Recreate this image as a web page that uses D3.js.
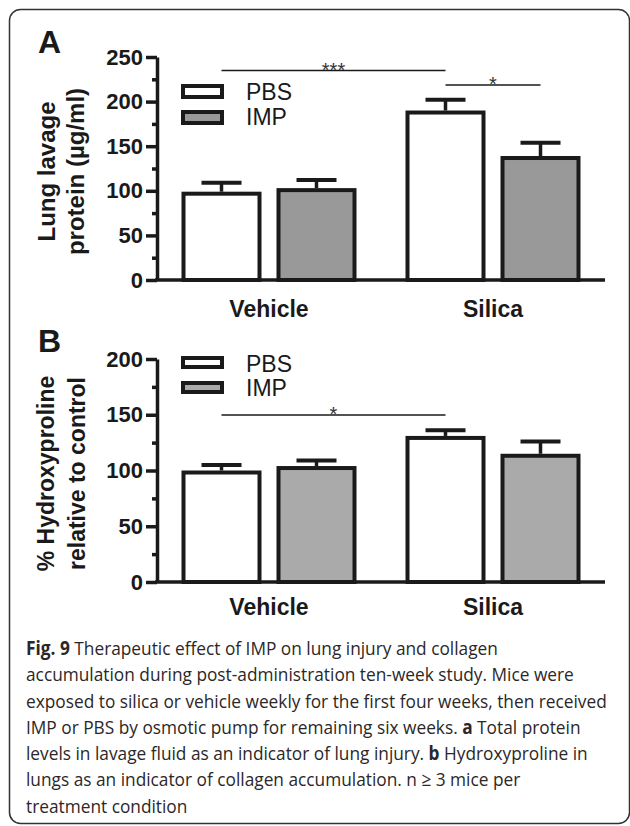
<!DOCTYPE html>
<html lang="en">
<head>
    <meta charset="utf-8" />
    <style>
        body {margin:0; background:#fff;}
        svg {display:block;}
        .tick text {font-family:"Liberation Sans", Arial, sans-serif; font-weight:bold; font-size:22px; fill:#1a1a1a;}
        .tick line, .domain {stroke:#1a1a1a; stroke-width:3.5px;}
        .ylab, .cat {font-family:"Liberation Sans", Arial, sans-serif; font-weight:bold; fill:#1a1a1a;}
        .leg {font-family:"Liberation Sans", Arial, sans-serif; font-size:23px; fill:#1a1a1a;}
        .caption {font-family:"Open Sans", "Noto Sans", sans-serif; font-size:19px; fill:#2b2728;}
    </style>
    <script src="https://cdn.jsdelivr.net/npm/d3@7"></script>
</head>
<body>
    <svg></svg>
</body>
<script>
    var width = 630,
        height = 826;

    var groups = ["Vehicle", "Silica"],
        series = ["PBS", "IMP"];

    // panel A: lung lavage protein (ug/ml)
    var proteinPBS = [99, 190],
        proteinIMP = [103, 139],
        proteinPBSErr = [10, 12],
        proteinIMPErr = [9, 15];

    // panel B: % hydroxyproline relative to control
    var hydroxyPBS = [100, 131],
        hydroxyIMP = [104, 115],
        hydroxyPBSErr = [5, 5],
        hydroxyIMPErr = [5, 11];

    var captionLines = [
        [["Fig. 9", true], [" Therapeutic effect of IMP on lung injury and collagen", false]],
        [["accumulation during post-administration ten-week study. Mice were", false]],
        [["exposed to silica or vehicle weekly for the first four weeks, then received", false]],
        [["IMP or PBS by osmotic pump for remaining six weeks. ", false], ["a", true], [" Total protein", false]],
        [["levels in lavage fluid as an indicator of lung injury. ", false], ["b", true], [" Hydroxyproline in", false]],
        [["lungs as an indicator of collagen accumulation. n \u2265 3 mice per", false]],
        [["treatment condition", false]]
    ];

    var svg = d3.select("svg")
        .attr("width", width)
        .attr("height", height)

    svg.append("rect")
        .attr("x", 9.5).attr("y", 9.5)
        .attr("width", 620).attr("height", 814)
        .attr("rx", 11)
        .attr("fill", "none")
        .attr("stroke", "#333")
        .attr("stroke-width", 1.5)

    var x = d3.scaleBand().domain(groups).range([157, 605]);
    var xSub = d3.scaleBand().domain(series).range([24.5, 199.5]).paddingInner(15/95);

    drawPanel({
        letter: "A", letterY: 53,
        top: 57, bottom: 280, max: 250,
        pbs: proteinPBS, imp: proteinIMP, pbsErr: proteinPBSErr, impErr: proteinIMPErr,
        impFill: "#999999",
        yTitle: ["Lung lavage", "protein (\u00b5g/ml)"], yTitleX: [55, 84], yTitleFont: 24,
        legendY: [84, 110], legendH: 13, legendTextY: [100, 125],
        sig: [{from: [0, 0], to: [1, 0], y: 70.5, label: "***"},
              {from: [1, 0], to: [1, 1], y: 85, label: "*"}],
        catY: 317
    })

    drawPanel({
        letter: "B", letterY: 352,
        top: 359, bottom: 582, max: 200,
        pbs: hydroxyPBS, imp: hydroxyIMP, pbsErr: hydroxyPBSErr, impErr: hydroxyIMPErr,
        impFill: "#aaaaaa",
        yTitle: ["% Hydroxyproline", "relative to control"], yTitleX: [54, 85], yTitleFont: 23,
        legendY: [356, 381], legendH: 11, legendTextY: [372, 396],
        sig: [{from: [0, 0], to: [1, 0], y: 415, label: "*"}],
        catY: 615
    })

    function drawPanel(p) {
        var y = d3.scaleLinear().domain([0, p.max]).range([p.bottom, p.top]);
        var g = svg.append("g");

        g.append("text")
            .attr("class", "cat")
            .attr("x", 38).attr("y", p.letterY)
            .style("font-size", "32px")
            .text(p.letter)

        // minor ticks
        g.append("g")
            .attr("transform", "translate(157,0)")
            .call(d3.axisLeft(y).tickValues(d3.range(25, p.max, 50)).tickSize(5).tickFormat(""))
            .call(function(s) {s.select(".domain").remove()})

        g.append("g")
            .attr("transform", "translate(157,0)")
            .call(d3.axisLeft(y).tickValues(d3.range(0, p.max + 1, 50)).tickSize(11).tickSizeOuter(0).tickPadding(3))

        // baseline
        g.append("line")
            .attr("x1", 155).attr("x2", x.range()[1])
            .attr("y1", y(0)).attr("y2", y(0))
            .attr("stroke", "#1a1a1a").attr("stroke-width", 3.5)

        var rows = [];
        groups.forEach(function(grp, i) {
            rows.push({group: grp, s: "PBS", v: p.pbs[i], e: p.pbsErr[i], fill: "#ffffff"});
            rows.push({group: grp, s: "IMP", v: p.imp[i], e: p.impErr[i], fill: p.impFill});
        })

        var bars = g.append("g").selectAll("g")
            .data(rows)
          .enter().append("g")
            .attr("transform", function(d) {return "translate(" + (x(d.group) + xSub(d.s)) + ",0)"})

        var bw = xSub.bandwidth();

        bars.append("line")
            .attr("x1", bw/2).attr("x2", bw/2)
            .attr("y1", function(d) {return y(d.v)})
            .attr("y2", function(d) {return y(d.v + d.e)})
            .attr("stroke", "#1a1a1a").attr("stroke-width", 3.5)

        bars.append("line")
            .attr("x1", bw/2 - 20).attr("x2", bw/2 + 20)
            .attr("y1", function(d) {return y(d.v + d.e)})
            .attr("y2", function(d) {return y(d.v + d.e)})
            .attr("stroke", "#1a1a1a").attr("stroke-width", 4)

        bars.append("rect")
            .attr("x", 2).attr("width", bw - 4)
            .attr("y", function(d) {return y(d.v) + 2})
            .attr("height", function(d) {return y(0) - y(d.v) - 2})
            .attr("fill", function(d) {return d.fill})
            .attr("stroke", "#1a1a1a").attr("stroke-width", 4)

        // legend
        series.forEach(function(s, i) {
            g.append("rect")
                .attr("x", 183).attr("y", p.legendY[i] + 2)
                .attr("width", 39).attr("height", p.legendH - 2)
                .attr("fill", i ? p.impFill : "#fff")
                .attr("stroke", "#1a1a1a").attr("stroke-width", 4)
            g.append("text")
                .attr("class", "leg")
                .attr("x", 246).attr("y", p.legendTextY[i])
                .text(s)
        })

        // significance bars
        p.sig.forEach(function(d) {
            var x1 = x(groups[d.from[0]]) + xSub(series[d.from[1]]) + bw/2,
                x2 = x(groups[d.to[0]]) + xSub(series[d.to[1]]) + bw/2;
            g.append("line")
                .attr("x1", x1).attr("x2", x2)
                .attr("y1", d.y).attr("y2", d.y)
                .attr("stroke", "#1a1a1a").attr("stroke-width", 1.6)
            g.append("text")
                .attr("x", (x1 + x2)/2).attr("y", d.y + 6)
                .attr("text-anchor", "middle")
                .style("font-family", "Liberation Sans, Arial, sans-serif")
                .style("font-size", "20px")
                .style("fill", "#333")
                .text(d.label)
        })

        // y title
        var midY = (p.top + p.bottom)/2 - 0;
        p.yTitle.forEach(function(t, i) {
            g.append("text")
                .attr("class", "ylab")
                .attr("transform", "translate(" + p.yTitleX[i] + "," + (midY + 3) + ") rotate(-90)")
                .attr("text-anchor", "middle")
                .style("font-size", p.yTitleFont + "px")
                .text(t)
        })

        // category labels
        g.append("g").selectAll("text")
            .data(groups)
          .enter().append("text")
            .attr("class", "cat")
            .attr("x", function(d) {return x(d) + x.bandwidth()/2})
            .attr("y", p.catY)
            .attr("text-anchor", "middle")
            .style("font-size", "23px")
            .text(function(d) {return d})
    }

    // caption
    var cap = svg.append("g").attr("transform", "translate(26,0)");
    var capText = cap.selectAll("text")
        .data(captionLines)
      .enter().append("text")
        .attr("class", "caption")
        .attr("x", 0)
        .attr("y", function(d, i) {return 655 + i * 26.3})

    capText.selectAll("tspan")
        .data(function(d) {return d})
      .enter().append("tspan")
        .style("font-weight", function(d) {return d[1] ? "bold" : "normal"})
        .text(function(d) {return d[0]})

    var longest = capText.nodes()[2].getComputedTextLength();
    var sx = 581 / longest;
    cap.attr("transform", "translate(26,0) scale(" + sx + ",1)");
</script>
</html>
